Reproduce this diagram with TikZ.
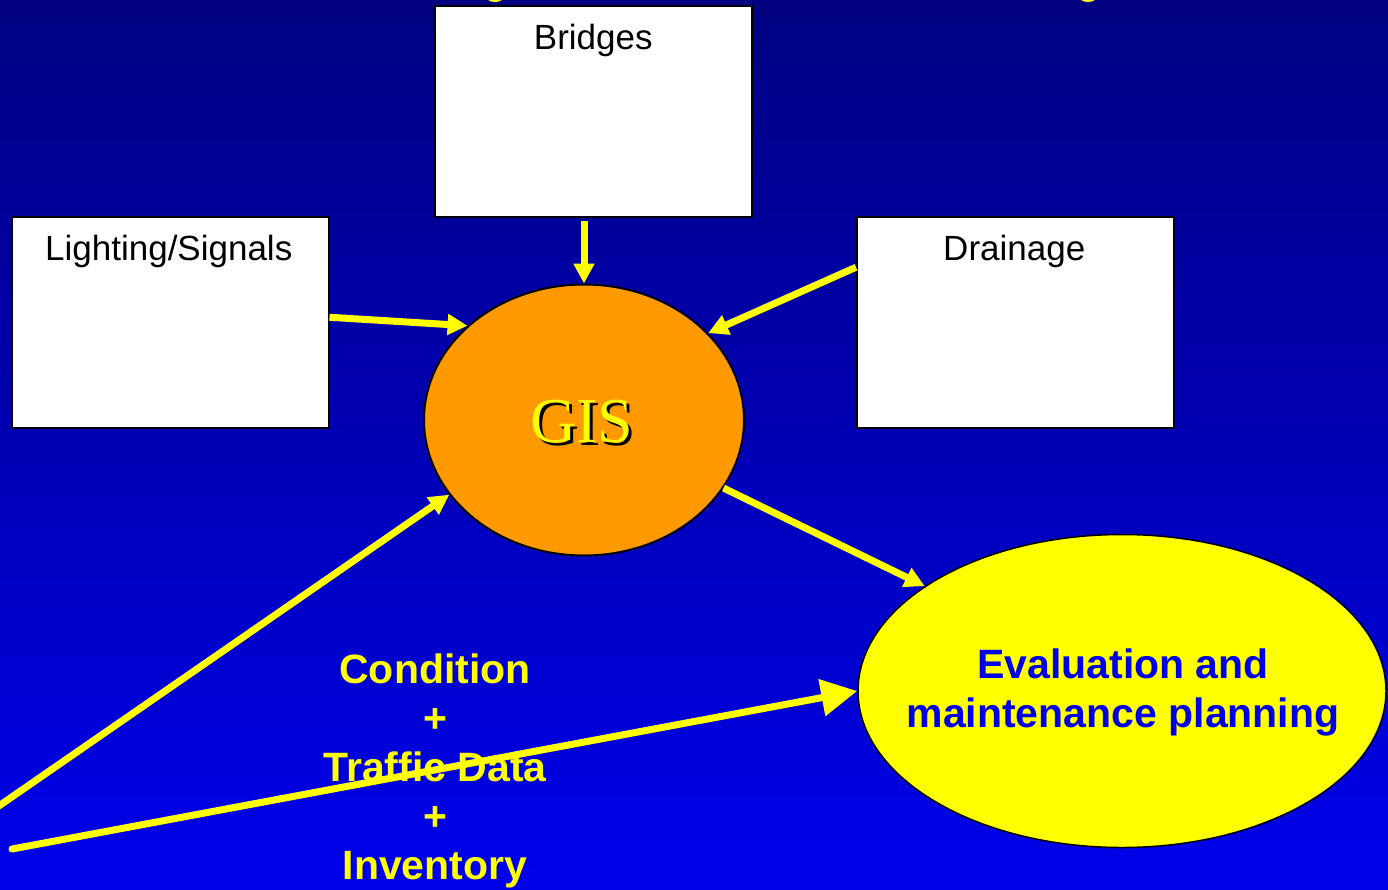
\documentclass[tikz,border=0pt]{standalone}
\usepackage{fontspec}
\setmainfont{Liberation Sans}
\newfontfamily\gisserif{Liberation Serif}
\usetikzlibrary{arrows.meta,shapes.geometric,calc}

\definecolor{bgtop}{RGB}{0,0,128}
\definecolor{bgbot}{RGB}{0,0,235}
\definecolor{gisorange}{RGB}{255,153,0}
\definecolor{hlyellow}{RGB}{255,255,0}
\definecolor{evalblue}{RGB}{0,0,230}

\begin{document}
\begin{tikzpicture}[x=1pt,y=-1pt,
  assetbox/.style={draw=black, line width=1.5pt, fill=white,
    minimum width=317pt, minimum height=211pt, inner sep=0pt, anchor=north west},
  boxlabel/.style={font=\fontsize{35}{42}\selectfont, text=black, inner sep=0pt, anchor=north},
  feed/.style={draw=hlyellow, line width=7pt, -{Triangle[length=20pt,width=20pt]}},
  bigfeed/.style={draw=hlyellow, line width=7pt, line cap=round,
    -{Triangle[length=36pt,width=36pt]}},
  yellowtext/.style={font=\bfseries\fontsize{41}{49}\selectfont, text=hlyellow, align=center, inner sep=0pt},
  gistext/.style={font=\gisserif\fontsize{64}{64}\selectfont, inner sep=0pt}
]
% page frame and background
\useasboundingbox (0,0) rectangle (1388,889);
\shade[top color=bgtop, bottom color=bgbot] (0,0) rectangle (1388,889);

% bits of the heading peeking in at the top edge
\fill[hlyellow] (495,-5) ellipse [x radius=10, y radius=7];
\fill[hlyellow] (1088,-5) ellipse [x radius=10, y radius=7];

% asset boxes
\node[assetbox] (bridges) at (434,5) {};
\node[assetbox] (light) at (11,216) {};
\node[assetbox] (drain) at (856,216) {};
\node[boxlabel] (bridgeslbl) at ([yshift=-19pt]bridges.north) {Bridges};
\node[boxlabel] (lightlbl) at ([yshift=-19pt,xshift=-1.5pt]light.north) {Lighting/Signals};
\node[boxlabel] (drainlbl) at ([yshift=-19pt,xshift=-1pt]drain.north) {Drainage};

% GIS hub
\node[ellipse, draw=black, line width=2pt, fill=gisorange,
  minimum width=320pt, minimum height=271pt, inner sep=0pt] (gis) at (584,420) {};
\node[gistext, text=black] (gisshadow) at (585,425) {GIS};
\node[gistext, text=hlyellow] (gislbl) at (582,422) {GIS};

% evaluation target
\node[ellipse, draw=black, line width=1.5pt, fill=hlyellow,
  minimum width=528pt, minimum height=313pt, inner sep=0pt] (eval) at (1122,691) {};
\node[font=\bfseries\fontsize{41}{49}\selectfont, text=evalblue, align=center, inner sep=0pt]
  (evallbl) at (1123,692) {Evaluation and\\maintenance planning};

% data sources
\node[yellowtext] (datalbl) at (435,771) {Condition\\+\\Traffic Data\\+\\Inventory};

% connectors
\draw[feed] ([yshift=-3pt]bridges.south -| gis.north) -- (gis.north);
\draw[feed] ([yshift=5pt]light.east) -- (gis.141);
\draw[feed] ([yshift=55pt]drain.west) -- (gis.35);
\draw[feed] (gis.-26) -- (eval.152);
\coordinate (offleft) at (-20,819);
\draw[feed] (offleft) -- (gis.209);
\coordinate (tailend) at (12,849);
\draw[bigfeed] (tailend) -- (eval.west);
\end{tikzpicture}
\end{document}
